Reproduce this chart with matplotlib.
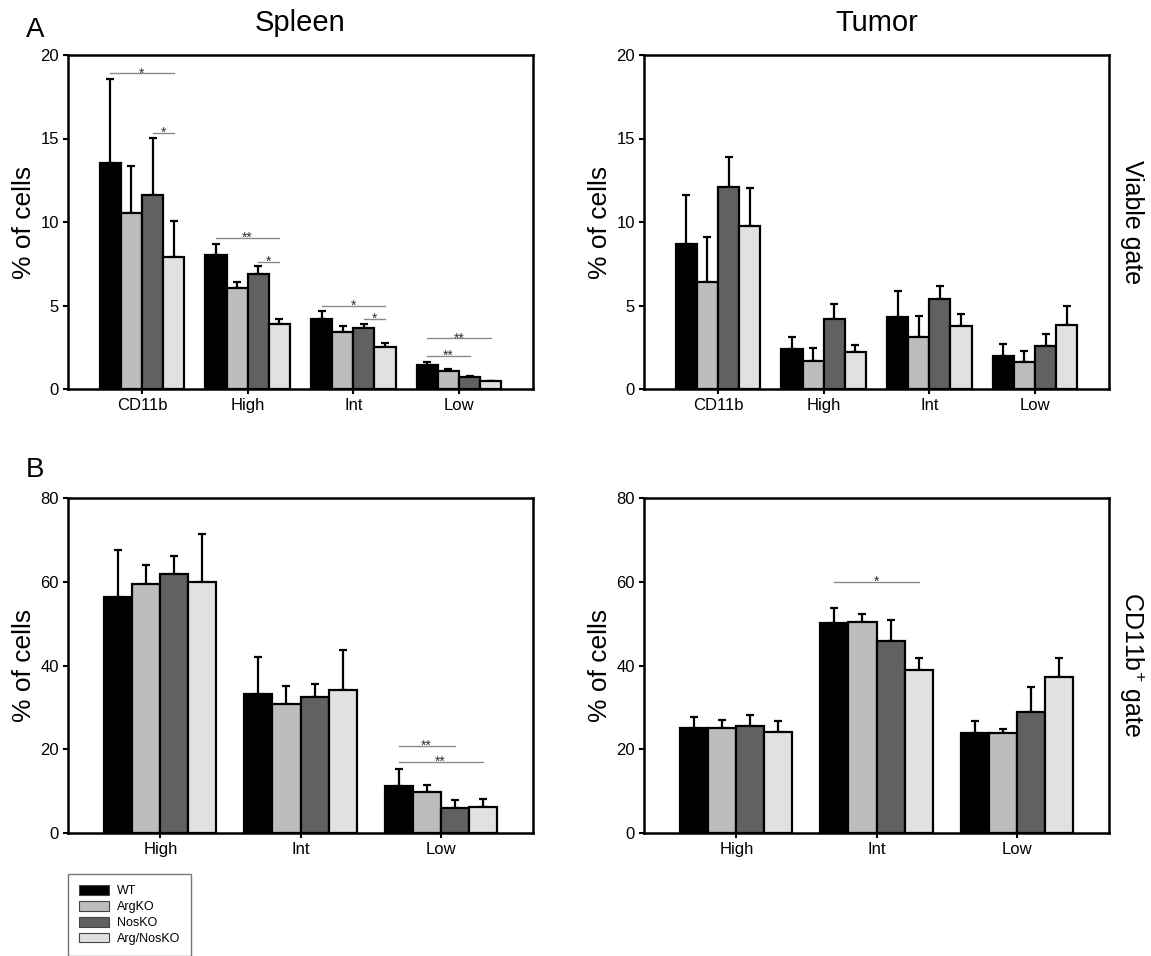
import matplotlib
matplotlib.use("Agg")
import matplotlib.pyplot as plt
import numpy as np

plt.rcParams['font.family'] = ['Liberation Sans', 'DejaVu Sans']
plt.rcParams['mathtext.fontset'] = 'custom'
plt.rcParams['mathtext.rm'] = 'Liberation Sans'

groups = ["WT", "ArgKO", "NosKO", "Arg/NosKO"]
colors = ["#000000", "#bdbdbd", "#616161", "#e1e1e1"]

# A - viable gate
cats_a = ["CD11b", "High", "Int", "Low"]
spleen_a = [[13.52, 8.0, 4.21, 1.46],
            [10.53, 6.02, 3.41, 1.10],
            [11.63, 6.88, 3.65, 0.70],
            [7.88, 3.91, 2.49, 0.46]]
spleen_a_sem = [[5.02, 0.67, 0.48, 0.16],
                [2.83, 0.40, 0.36, 0.10],
                [3.42, 0.50, 0.26, 0.06],
                [2.15, 0.30, 0.26, 0.04]]
tumor_a = [[8.67, 2.41, 4.29, 1.99],
           [6.38, 1.69, 3.11, 1.60],
           [12.12, 4.19, 5.38, 2.59],
           [9.77, 2.21, 3.75, 3.81]]
tumor_a_sem = [[2.96, 0.68, 1.59, 0.72],
               [2.75, 0.76, 1.24, 0.69],
               [1.80, 0.89, 0.76, 0.72],
               [2.29, 0.44, 0.76, 1.19]]

# B - CD11b+ gate
cats_b = ["High", "Int", "Low"]
spleen_b = [[56.3, 33.3, 11.2],
            [59.4, 30.7, 9.8],
            [61.9, 32.5, 6.0],
            [60.0, 34.1, 6.1]]
spleen_b_sem = [[11.4, 8.8, 4.0],
                [4.6, 4.3, 1.6],
                [4.2, 3.1, 1.8],
                [11.4, 9.6, 1.95]]
tumor_b = [[25.1, 50.2, 23.8],
           [25.0, 50.3, 24.0],
           [25.5, 45.9, 29.0],
           [24.2, 39.0, 37.3]]
tumor_b_sem = [[2.5, 3.5, 2.9],
               [2.0, 2.0, 0.8],
               [2.6, 5.0, 5.9],
               [2.5, 2.9, 4.6]]

# significance bars: (category, first group, last group, height, label)
sig_spleen_a = [(0, 0, 3, 18.9, "*"), (0, 2, 3, 15.33, "*"),
                (1, 0, 3, 9.03, "**"), (1, 2, 3, 7.6, "*"),
                (2, 0, 3, 5.0, "*"), (2, 2, 3, 4.19, "*"),
                (3, 0, 3, 3.03, "**"), (3, 0, 2, 2.0, "**")]
sig_spleen_b = [(2, 0, 2, 20.8, "**"), (2, 0, 3, 16.9, "**")]
sig_tumor_b = [(1, 0, 3, 60.0, "*")]

W, H = 1151, 956
fig = plt.figure(figsize=(W / 100, H / 100), dpi=100)

def px_axes(l, t, r, b):
    return fig.add_axes([l / W, 1 - b / H, (r - l) / W, (b - t) / H])

bw = 0.2
offs = [-0.3, -0.1, 0.1, 0.3]

def panel(ax, cats, vals, sems, ymax, yticks, sigs, pad):
    x = np.arange(len(cats))
    bars = []
    for i in range(4):
        b = ax.bar(x + offs[i], vals[i], bw, color=colors[i], edgecolor="black",
                   linewidth=1.6, label=groups[i], zorder=2)
        bars.append(b)
        ax.errorbar(x + offs[i], vals[i], yerr=[np.zeros(len(cats)), sems[i]],
                    fmt="none", ecolor="black", elinewidth=1.6, capsize=3.2,
                    capthick=1.6, zorder=1)
    for c, g1, g2, y, lab in sigs:
        x1 = c + offs[g1]
        x2 = c + offs[g2]
        ax.plot([x1, x2], [y, y], color="#8a8a8a", lw=1.0, zorder=3)
        ax.text((x1 + x2) / 2, y, lab, ha="center", va="center", fontsize=10,
                color="#333333", zorder=3)
    ax.set_xlim(-pad, len(cats) - 1 + pad)
    ax.set_ylim(0, ymax)
    ax.set_yticks(yticks)
    ax.set_xticks(x)
    ax.set_xticklabels(cats)
    ax.tick_params(labelsize=12, width=1.5, length=3.5, pad=3)
    for s in ax.spines.values():
        s.set_linewidth(1.8)
    ax.set_ylabel("% of cells", fontsize=19, labelpad=3)
    return bars

ax1 = px_axes(68, 55, 533, 389)
bars = panel(ax1, cats_a, spleen_a, spleen_a_sem, 20, [0, 5, 10, 15, 20], sig_spleen_a, 0.7)
ax2 = px_axes(644, 55, 1109, 389)
panel(ax2, cats_a, tumor_a, tumor_a_sem, 20, [0, 5, 10, 15, 20], [], 0.7)
ax3 = px_axes(68, 498, 533, 833)
panel(ax3, cats_b, spleen_b, spleen_b_sem, 80, [0, 20, 40, 60, 80], sig_spleen_b, 0.66)
ax4 = px_axes(644, 498, 1109, 833)
panel(ax4, cats_b, tumor_b, tumor_b_sem, 80, [0, 20, 40, 60, 80], sig_tumor_b, 0.66)

ax1.set_title("Spleen", fontsize=21, pad=17)
ax2.set_title("Tumor", fontsize=21, pad=17)
fig.text(35 / W, 1 - 30 / H, "A", fontsize=20, ha="center", va="center")
fig.text(35 / W, 1 - 470 / H, "B", fontsize=20, ha="center", va="center")
fig.text(1132 / W, 1 - 222 / H, "Viable gate", fontsize=18, rotation=270,
         ha="center", va="center")
fig.text(1132 / W, 1 - 665 / H, "CD11b$^{+}$ gate", fontsize=18, rotation=270,
         ha="center", va="center")

leg = fig.legend(handles=bars, labels=groups, loc="upper left",
                 bbox_to_anchor=(68 / W, 1 - 874 / H), fontsize=9,
                 frameon=True, fancybox=False, borderaxespad=0, borderpad=0.9,
                 handlelength=2.4, handleheight=0.8, labelspacing=0.3,
                 handletextpad=0.6)
leg.get_frame().set_edgecolor("#555555")
leg.get_frame().set_linewidth(1.0)
for p in leg.get_patches():
    p.set_linewidth(0.8)
    p.set_edgecolor("#444444")

fig.savefig("out.png", dpi=100)
